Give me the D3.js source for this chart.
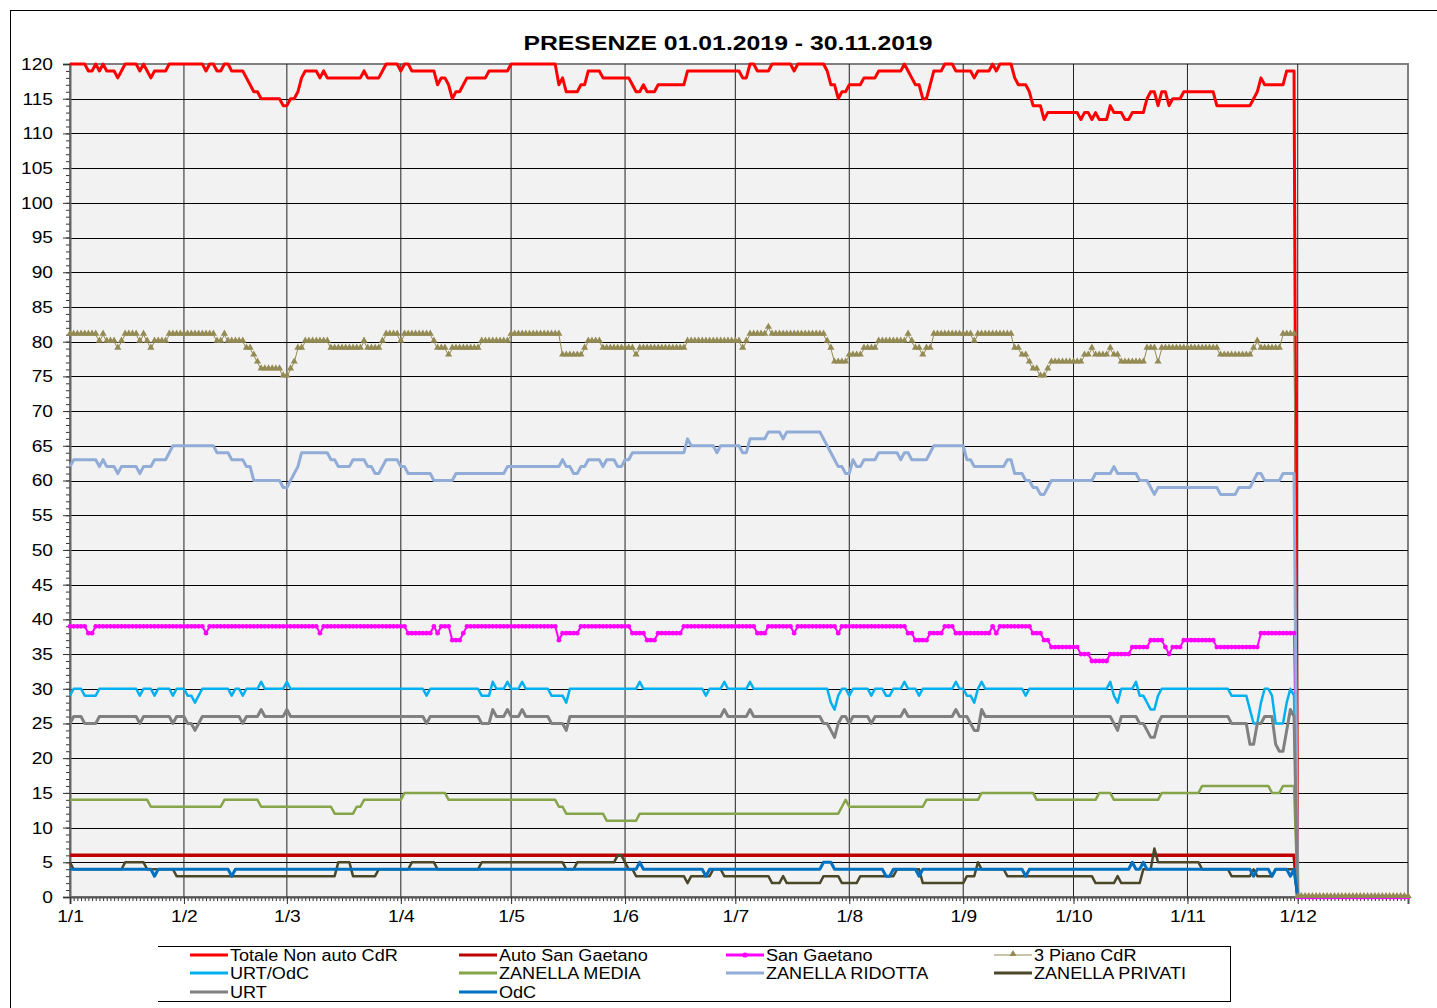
<!DOCTYPE html>
<html>
<head>
<meta charset="utf-8">
<script src="https://cdn.jsdelivr.net/npm/d3@7"></script>
<style>
  body { margin: 0; background: #fff; }
  text { font-family: "Liberation Sans", Arial, sans-serif; }
</style>
</head>
<body>
<svg id="chart" width="1437" height="1008"></svg>
<script>
///////////////    Data    ////////////////

// Days are counted from 1 January 2019 (day 0). Each pair is [day, value]
// and the value holds until the next pair. From 1 December everything is 0.
let totaleSteps = [[0,120],[5,119],[7,120],[8,119],[9,120],[10,119],[13,118],[14,119],[15,120],[19,119],[20,120],[21,119],[22,118],[23,119],[27,120],[37,119],[38,120],[40,119],[42,120],[44,119],[48,118],[49,117],[50,116],[52,115],[58,114],[60,115],[62,116],[63,118],[64,119],[68,118],[69,119],[70,118],[80,119],[81,118],[85,119],[86,120],[90,119],[91,120],[93,119],[100,117],[101,118],[103,117],[104,115],[105,116],[107,117],[108,118],[114,119],[120,120],[133,117],[134,118],[135,116],[139,117],[141,119],[145,118],[153,117],[154,116],[156,117],[157,116],[160,117],[168,119],[183,118],[185,120],[187,119],[191,120],[197,119],[198,120],[206,119],[207,117],[209,115],[210,116],[212,117],[216,118],[220,119],[227,120],[228,119],[229,118],[230,117],[232,115],[234,117],[235,119],[238,120],[241,119],[246,118],[247,119],[251,120],[252,119],[253,120],[257,118],[258,117],[261,116],[262,114],[265,112],[266,113],[275,112],[276,113],[278,112],[279,113],[280,112],[283,114],[284,113],[287,112],[289,113],[293,115],[294,116],[296,114],[297,116],[299,114],[300,115],[303,116],[312,114],[322,115],[323,116],[324,118],[325,117],[331,119],[334,0]];

let autoSanGaetanoSteps = [[0,6],[334,0]];

let sanGaetanoSteps = [[0,39],[5,38],[7,39],[37,38],[38,39],[68,38],[69,39],[92,38],[99,39],[100,38],[101,39],[104,37],[107,38],[108,39],[133,37],[134,38],[139,39],[153,38],[157,37],[160,38],[167,39],[187,38],[190,39],[197,38],[198,39],[209,38],[210,39],[228,38],[230,37],[234,38],[238,39],[241,38],[251,39],[252,38],[253,39],[262,38],[265,37],[267,36],[275,35],[278,34],[283,35],[289,36],[294,37],[298,36],[299,35],[300,36],[303,37],[312,36],[324,38],[334,0]];

let pianoSteps = [[0,81],[8,80],[9,81],[10,80],[13,79],[14,80],[15,81],[19,80],[20,81],[21,80],[22,79],[23,80],[27,81],[40,80],[42,81],[43,80],[48,79],[50,78],[51,77],[52,76],[58,75],[60,76],[61,77],[62,79],[64,80],[71,79],[80,80],[81,79],[85,80],[86,81],[90,80],[91,81],[99,80],[100,79],[103,78],[104,79],[112,80],[120,81],[134,78],[140,79],[141,80],[145,79],[154,78],[155,79],[168,80],[183,79],[184,80],[185,81],[190,82],[191,81],[206,80],[207,79],[208,77],[212,78],[216,79],[220,80],[228,81],[229,80],[230,79],[232,78],[233,79],[235,81],[246,80],[247,81],[257,79],[259,78],[261,77],[262,76],[264,75],[266,76],[267,77],[276,78],[278,79],[279,78],[283,79],[284,78],[286,77],[293,79],[296,77],[297,79],[313,78],[322,79],[323,80],[324,79],[330,81],[334,0]];

let urtOdcSteps = [[0,29],[1,30],[4,29],[8,30],[19,29],[20,30],[23,29],[24,30],[28,29],[29,30],[32,29],[34,28],[35,29],[36,30],[44,29],[45,30],[47,29],[48,30],[52,31],[53,30],[59,31],[60,30],[97,29],[98,30],[112,29],[115,31],[116,30],[119,31],[120,30],[123,31],[124,30],[131,29],[135,28],[136,30],[155,31],[156,30],[173,29],[174,30],[178,31],[179,30],[185,31],[186,30],[207,28],[208,27],[209,29],[210,30],[212,29],[213,30],[218,29],[219,30],[222,29],[224,30],[227,31],[228,30],[231,29],[232,30],[241,31],[242,30],[244,29],[246,28],[247,30],[248,31],[249,30],[260,29],[261,30],[283,31],[284,29],[285,28],[286,30],[290,31],[291,29],[293,28],[294,27],[296,29],[297,30],[316,29],[321,27],[322,25],[324,28],[325,30],[327,29],[328,25],[330,25],[331,28],[332,30],[333,29],[334,0]];

let zanellaMediaSteps = [[0,14],[22,13],[42,14],[52,13],[72,12],[78,13],[80,14],[91,15],[103,14],[133,13],[135,12],[146,11],[155,12],[210,13],[211,14],[212,13],[233,14],[248,15],[263,14],[280,15],[284,14],[297,15],[308,16],[327,15],[330,16],[334,0]];

let zanellaRidottaSteps = [[0,62],[1,63],[8,62],[9,63],[10,62],[13,61],[14,62],[19,61],[20,62],[23,63],[27,64],[28,65],[40,64],[44,63],[48,62],[50,60],[58,59],[60,60],[61,61],[62,62],[63,64],[71,63],[73,62],[77,63],[81,62],[83,61],[85,62],[86,63],[90,62],[92,61],[99,60],[105,61],[119,62],[134,63],[135,62],[137,61],[139,62],[141,63],[145,62],[146,63],[149,62],[151,63],[153,64],[168,66],[169,65],[176,64],[177,65],[183,64],[185,66],[190,67],[194,66],[195,67],[205,66],[206,65],[207,64],[208,63],[209,62],[211,61],[213,63],[214,62],[216,63],[220,64],[226,63],[227,64],[229,63],[234,64],[235,65],[244,63],[246,62],[255,63],[257,61],[260,60],[262,59],[264,58],[266,59],[267,60],[279,61],[284,62],[285,61],[291,60],[294,59],[295,58],[296,59],[313,58],[318,59],[322,60],[323,61],[325,60],[330,61],[334,0]];

let zanellaPrivatiSteps = [[0,5],[1,4],[15,5],[21,4],[29,3],[73,5],[77,3],[84,4],[93,5],[100,4],[112,5],[135,4],[138,5],[149,6],[151,5],[152,4],[154,3],[168,2],[169,3],[175,4],[178,3],[191,2],[194,3],[195,2],[205,3],[210,2],[215,3],[225,4],[232,2],[244,3],[247,5],[248,4],[255,3],[279,2],[285,3],[286,2],[292,4],[295,7],[296,5],[308,4],[316,3],[322,4],[323,3],[328,4],[334,0]];

let urtSteps = [[0,25],[1,26],[4,25],[8,26],[19,25],[20,26],[28,25],[29,26],[32,25],[34,24],[35,25],[36,26],[47,25],[48,26],[52,27],[53,26],[59,27],[60,26],[97,25],[98,26],[112,25],[115,27],[116,26],[119,27],[120,26],[123,27],[124,26],[131,25],[135,24],[136,26],[178,27],[179,26],[185,27],[186,26],[205,25],[207,24],[208,23],[209,25],[210,26],[212,25],[213,26],[218,25],[219,26],[227,27],[228,26],[241,27],[242,26],[245,25],[246,24],[248,27],[249,26],[284,25],[285,24],[286,26],[291,25],[293,24],[294,23],[296,25],[297,26],[316,25],[321,22],[323,25],[325,26],[328,22],[329,21],[331,24],[332,27],[333,26],[334,0]];

let odcSteps = [[0,4],[23,3],[24,4],[44,3],[45,4],[155,5],[156,4],[173,3],[174,4],[205,5],[208,4],[222,3],[224,4],[231,3],[232,4],[260,3],[261,4],[289,5],[290,4],[292,5],[293,4],[322,3],[323,4],[327,3],[328,4],[332,3],[333,4],[334,0]];

let seriesNames = ["Totale Non auto CdR", "Auto San Gaetano", "San Gaetano", "3 Piano CdR",
  "URT/OdC", "ZANELLA MEDIA", "ZANELLA RIDOTTA", "ZANELLA PRIVATI", "URT", "OdC"];

let monthLabels = ["1/1", "1/2", "1/3", "1/4", "1/5", "1/6", "1/7", "1/8", "1/9", "1/10", "1/11", "1/12"];
let yTickValues = [0, 5, 10, 15, 20, 25, 30, 35, 40, 45, 50, 55, 60, 65, 70, 75, 80, 85, 90, 95, 100, 105, 110, 115, 120];

let chartTitle = "PRESENZE 01.01.2019 - 30.11.2019";

///////////////    Helpers    ////////////////

// Turns a step list into one point per day of 2019
function expandSteps(steps) {
  let points = [];
  let k = 0;
  for (let day = 0; day < 365; day++) {
    while (k + 1 < steps.length && steps[k + 1][0] <= day) k++;
    points.push({ date: new Date(Date.UTC(2019, 0, 1 + day)), value: steps[k][1] });
  }
  return points;
}

// The original picture has its text a little wider than normal
const SX = 1.13;

let series = [
  { steps: totaleSteps, color: "#ff0000", width: 3 },
  { steps: autoSanGaetanoSteps, color: "#c00000", width: 3.5 },
  { steps: sanGaetanoSteps, color: "#ff00ff", width: 2, marker: "circle" },
  { steps: pianoSteps, color: "#948a54", width: 1, marker: "triangle" },
  { steps: urtOdcSteps, color: "#00b0f0", width: 2.5 },
  { steps: zanellaMediaSteps, color: "#86a449", width: 2.5 },
  { steps: zanellaRidottaSteps, color: "#91acd7", width: 3 },
  { steps: zanellaPrivatiSteps, color: "#4b4729", width: 2.5 },
  { steps: urtSteps, color: "#808080", width: 3 },
  { steps: odcSteps, color: "#0070c0", width: 3 },
].map((s, i) => Object.assign(s, { name: seriesNames[i], points: expandSteps(s.steps) }));

/////////////////////////    Chart    ////////////////////////////

let svg = d3.select("#chart");

let plotLeft = 70, plotRight = 1408, plotTop = 64, plotBottom = 897;

let x = d3.scaleUtc()
  .domain([new Date(Date.UTC(2019, 0, 1)), new Date(Date.UTC(2019, 11, 31))])
  .range([plotLeft, plotRight]);
let y = d3.scaleLinear().domain([0, 120]).range([plotBottom, plotTop]);

let monthStarts = d3.utcMonth.range(new Date(Date.UTC(2019, 0, 1)), new Date(Date.UTC(2020, 0, 1)));
let allDays = d3.utcDay.range(new Date(Date.UTC(2019, 0, 1)), new Date(Date.UTC(2020, 0, 1)));

// outer frame
svg.append("rect")
  .attr("x", 10.5).attr("y", 10.5)
  .attr("width", 1440).attr("height", 1010)
  .attr("fill", "none").attr("stroke", "#000");

// title
svg.append("text")
  .attr("transform", "translate(728,50) scale(1.24,1)")
  .attr("text-anchor", "middle")
  .attr("font-size", 20)
  .attr("font-weight", "bold")
  .text(chartTitle);

// plot background
svg.append("rect")
  .attr("x", plotLeft).attr("y", plotTop)
  .attr("width", plotRight - plotLeft).attr("height", plotBottom - plotTop)
  .attr("fill", "#f2f2f2")
  .attr("stroke", "#808080").attr("stroke-width", 2);

// horizontal grid
svg.append("g")
  .selectAll("line")
  .data(yTickValues.filter((v) => v > 0 && v < 120))
  .enter()
  .append("line")
  .attr("x1", plotLeft).attr("x2", plotRight)
  .attr("y1", (d) => Math.round(y(d)) + 0.5).attr("y2", (d) => Math.round(y(d)) + 0.5)
  .attr("stroke", "#000").attr("stroke-width", 1);

// vertical grid at month starts
svg.append("g")
  .selectAll("line")
  .data(monthStarts.slice(1))
  .enter()
  .append("line")
  .attr("x1", (d) => x(d)).attr("x2", (d) => x(d))
  .attr("y1", plotTop).attr("y2", plotBottom)
  .attr("stroke", "#222").attr("stroke-width", 1);

// y axis: minor ticks every unit, labels every 5
svg.append("g")
  .attr("transform", `translate(${plotLeft},0)`)
  .call(d3.axisLeft(y).tickValues(d3.range(0, 121)).tickSize(4).tickFormat(""))
  .call((g) => g.select(".domain").remove())
  .selectAll("line").attr("stroke", "#333");

let yAxis = svg.append("g")
  .attr("transform", `translate(${plotLeft},0)`)
  .call(d3.axisLeft(y).tickValues(yTickValues).tickSize(7).tickPadding(8));
yAxis.select(".domain").attr("stroke", "#666").attr("stroke-width", 2);
yAxis.selectAll("line").attr("stroke", "#333");
yAxis.selectAll("text")
  .attr("x", -15)
  .attr("font-size", 17)
  .attr("font-family", "Liberation Sans, Arial, sans-serif")
  .attr("fill", "#000")
  .attr("transform", `scale(${SX},1)`);

// x axis: one tick per day, labels at month starts
svg.append("g")
  .attr("transform", `translate(0,${plotBottom})`)
  .call(d3.axisBottom(x).tickValues(allDays).tickSize(4).tickFormat(""))
  .call((g) => g.select(".domain").remove())
  .selectAll("line").attr("stroke", "#333");

let xAxis = svg.append("g")
  .attr("transform", `translate(0,${plotBottom})`)
  .call(d3.axisBottom(x).tickValues(monthStarts).tickSize(7).tickPadding(6)
    .tickFormat((d, i) => monthLabels[i]));
xAxis.select(".domain").attr("stroke", "#555").attr("stroke-width", 2);
xAxis.selectAll("line").attr("stroke", "#333");
xAxis.selectAll("text")
  .attr("font-size", 17)
  .attr("font-family", "Liberation Sans, Arial, sans-serif")
  .attr("fill", "#000")
  .attr("transform", `scale(${SX},1)`);

// lines first, markers on top of all lines (like the spreadsheet does)
let line = d3.line()
  .x((d) => x(d.date))
  .y((d) => y(d.value));

let triangle = d3.symbol().type(d3.symbolTriangle).size(22);

let linesLayer = svg.append("g");
let markersLayer = svg.append("g");

series.forEach((s) => {
  linesLayer.append("path")
    .datum(s.points)
    .attr("d", line)
    .attr("fill", "none")
    .attr("stroke", s.color)
    .attr("stroke-width", s.width)
    .attr("stroke-linejoin", "round");

  if (s.marker === "circle") {
    markersLayer.append("g")
      .selectAll("circle")
      .data(s.points)
      .enter()
      .append("circle")
      .attr("cx", (d) => x(d.date))
      .attr("cy", (d) => y(d.value))
      .attr("r", 2.4)
      .attr("fill", s.color);
  }
  if (s.marker === "triangle") {
    markersLayer.append("g")
      .selectAll("path")
      .data(s.points)
      .enter()
      .append("path")
      .attr("d", triangle)
      .attr("transform", (d) => `translate(${x(d.date)},${y(d.value) - 1})`)
      .attr("fill", s.color);
  }
});

/////////////////////////    Legend    ////////////////////////////

let legendCols = [190, 459, 726, 994];
let legendRows = [955, 973, 992];

let legend = svg.append("g");
legend.append("line").attr("x1", 158).attr("x2", 1231).attr("y1", 946.5).attr("y2", 946.5).attr("stroke", "#000");
legend.append("line").attr("x1", 158).attr("x2", 1231).attr("y1", 1001.5).attr("y2", 1001.5).attr("stroke", "#000");
legend.append("line").attr("x1", 1230.5).attr("x2", 1230.5).attr("y1", 946.5).attr("y2", 1001.5).attr("stroke", "#000");

series.forEach((s, i) => {
  let lx = legendCols[i % 4];
  let ly = legendRows[Math.floor(i / 4)];
  let item = legend.append("g");
  item.append("line")
    .attr("x1", lx).attr("x2", lx + 38)
    .attr("y1", ly).attr("y2", ly)
    .attr("stroke", s.color)
    .attr("stroke-width", s.marker === "triangle" ? 1 : 3);
  if (s.marker === "circle") {
    item.append("circle").attr("cx", lx + 19).attr("cy", ly).attr("r", 2.6).attr("fill", s.color);
  }
  if (s.marker === "triangle") {
    item.append("path").attr("d", triangle).attr("transform", `translate(${lx + 19},${ly - 1})`).attr("fill", s.color);
  }
  item.append("text")
    .attr("transform", `translate(${lx + 40},${ly + 6}) scale(${SX},1)`)
    .attr("font-size", 16)
    .text(s.name);
});
</script>
</body>
</html>
